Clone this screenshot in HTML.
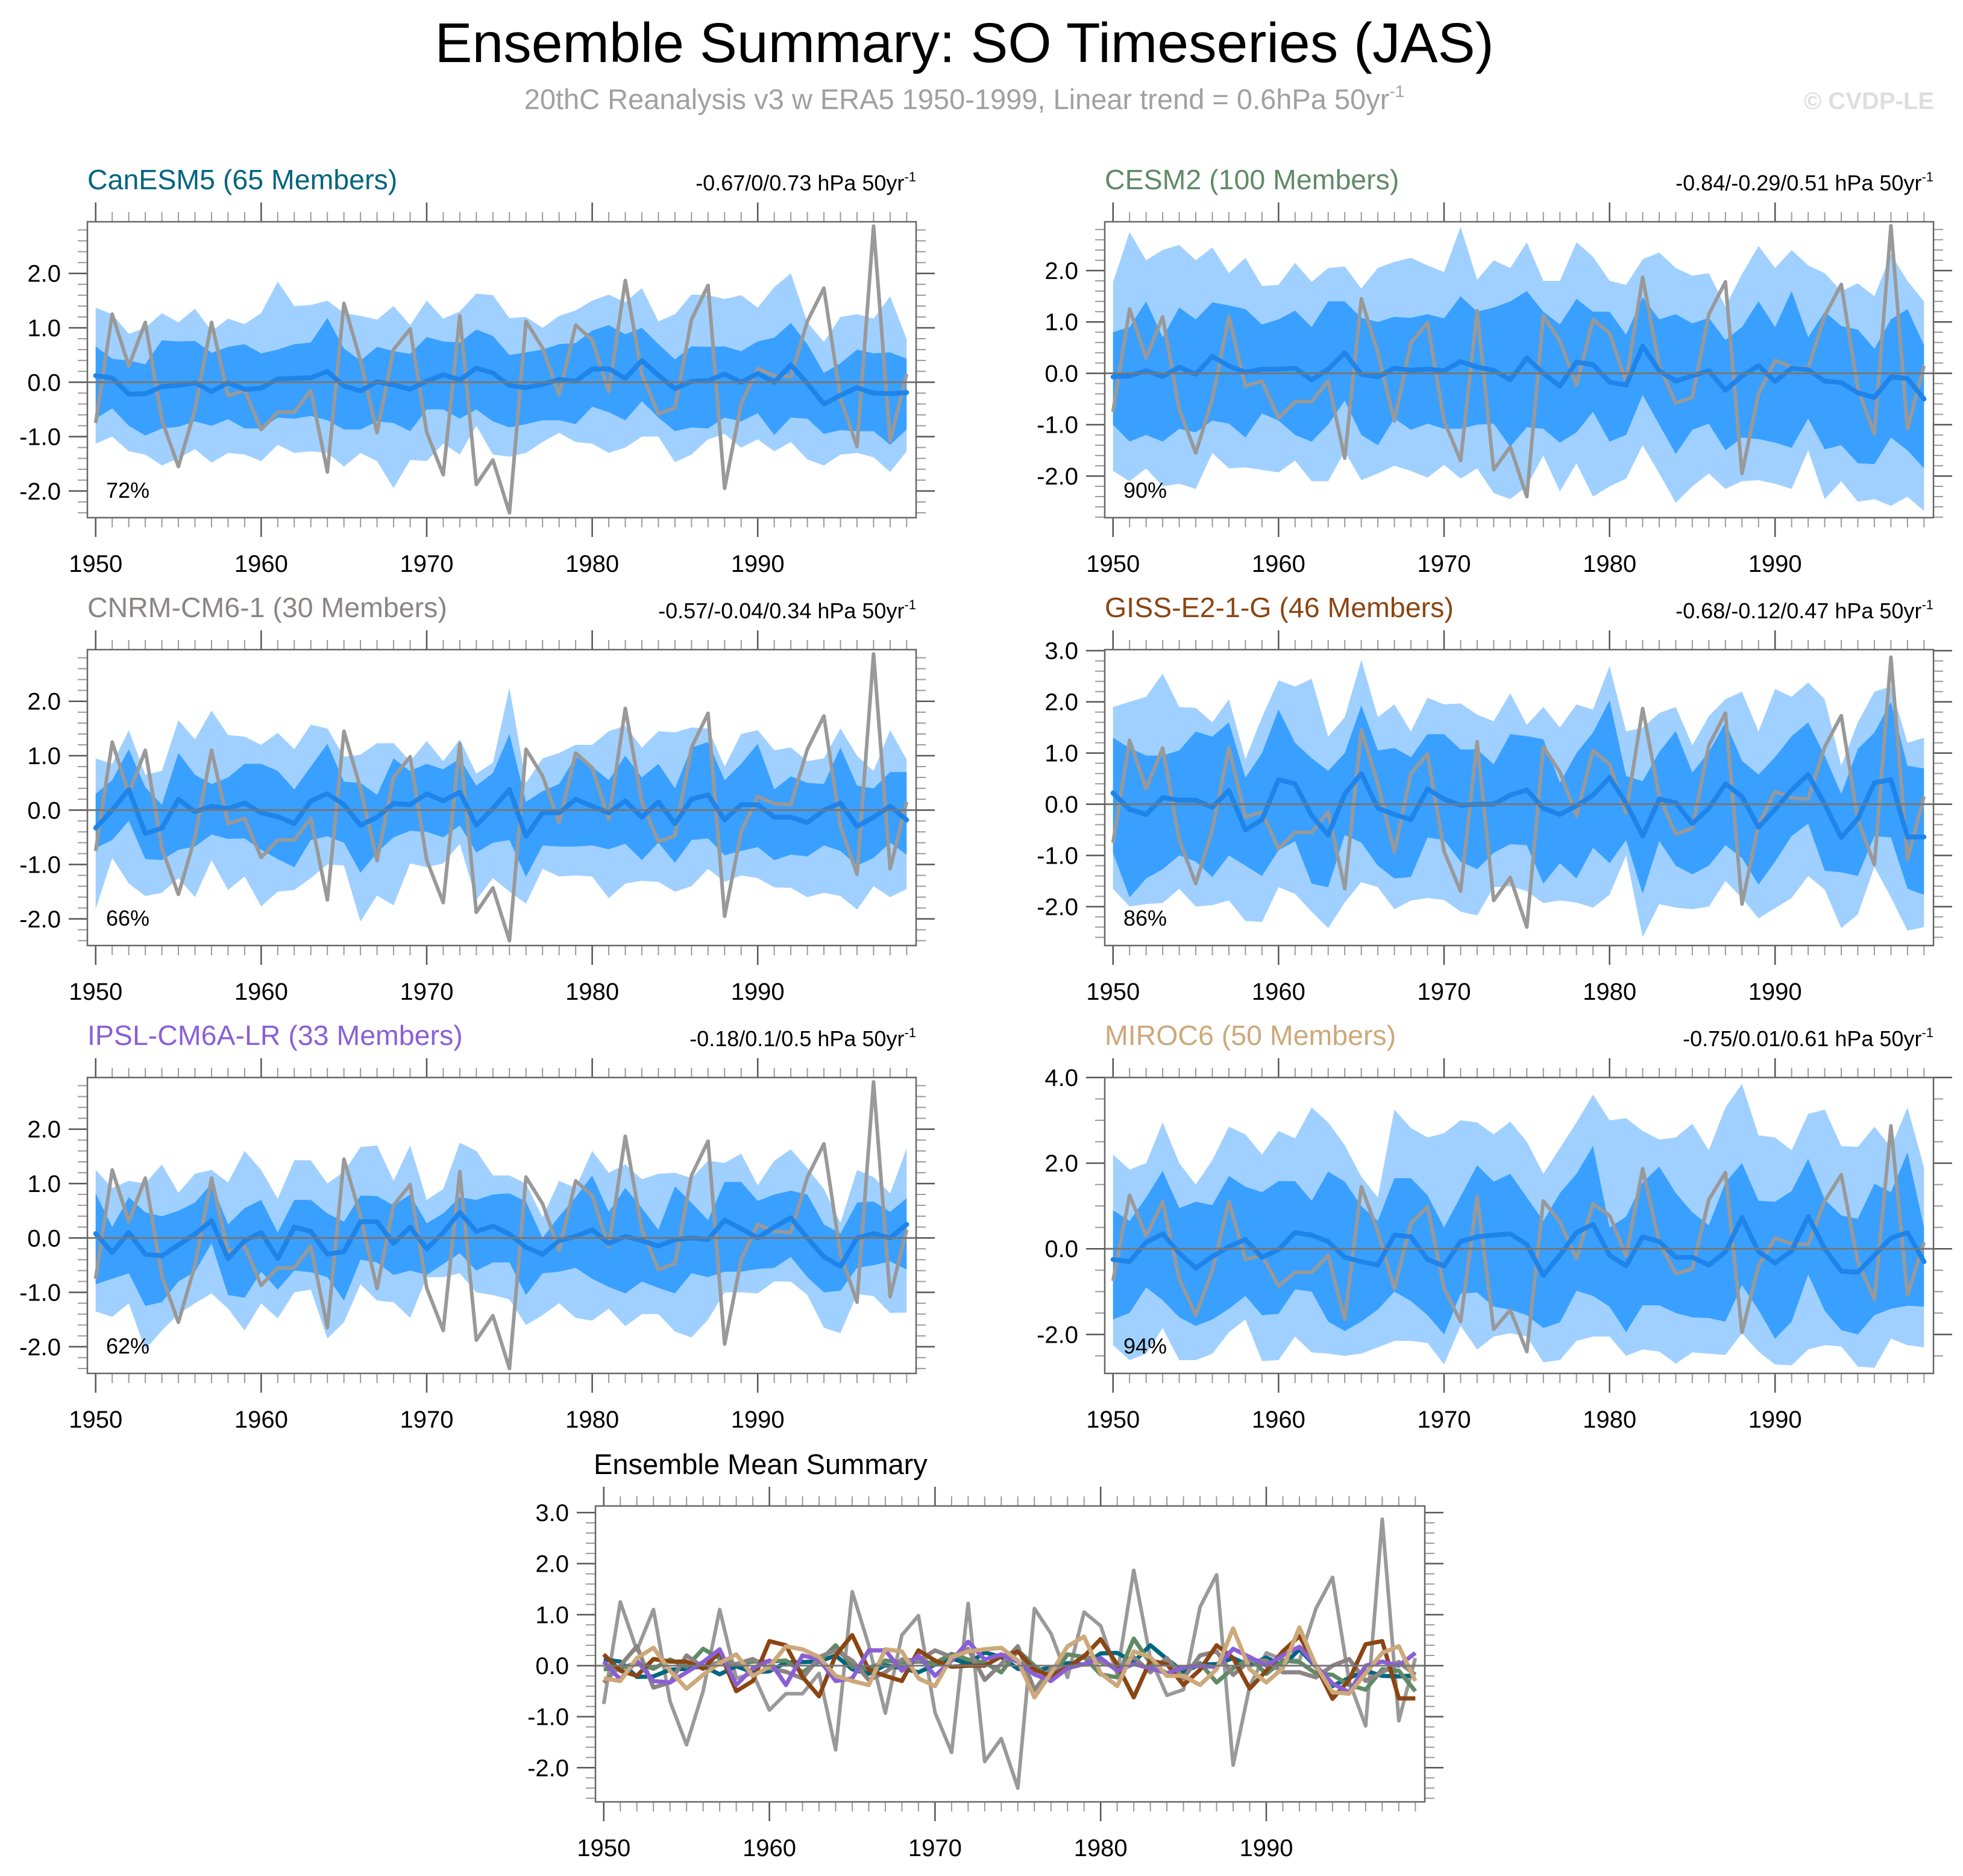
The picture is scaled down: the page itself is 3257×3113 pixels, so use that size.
<!DOCTYPE html>
<html><head><meta charset="utf-8"><style>
html,body{margin:0;padding:0;background:#fff;}
svg{display:block;font-family:"Liberation Sans",Arial,sans-serif;}
</style></head><body>
<svg id="chart" width="3257" height="3113" viewBox="0 0 3257 3113" xmlns="http://www.w3.org/2000/svg">
<rect width="3257" height="3113" fill="#fff"/>
<text x="1600" y="103" font-size="93" text-anchor="middle" fill="#000">Ensemble Summary: SO Timeseries (JAS)</text>
<text x="1600" y="181" font-size="47" text-anchor="middle" fill="#a0a0a0">20thC Reanalysis v3 w ERA5 1950-1999, Linear trend = 0.6hPa 50yr<tspan dy="-20" font-size="28">-1</tspan></text>
<text x="3209" y="181" font-size="40" font-weight="bold" text-anchor="end" fill="#dedede">© CVDP-LE</text>
<g id="plots"></g>
</svg>
<script>
const years = Array.from({length:50},(_,i)=>1950+i);
const obs = [-0.75,1.25,0.3,1.1,-0.7,-1.55,-0.5,1.1,-0.25,-0.15,-0.87,-0.55,-0.55,-0.15,-1.65,1.45,0.4,-0.93,0.6,0.98,-0.92,-1.7,1.22,-1.88,-1.43,-2.4,1.12,0.63,-0.23,1.05,0.78,-0.17,1.87,0.15,-0.58,-0.47,1.15,1.78,-1.95,-0.4,0.25,0.12,0.1,1.12,1.73,-0.3,-1.18,2.87,-1.08,0.15];

const canMean = [0.12,0.08,-0.22,-0.21,-0.08,-0.06,-0.01,-0.17,-0.01,-0.13,-0.11,0.06,0.07,0.08,0.2,-0.07,-0.16,0.01,-0.05,-0.13,0.02,0.14,0.04,0.26,0.17,-0.06,-0.1,-0.04,0.05,0.02,0.24,0.25,0.07,0.4,0.13,-0.12,0.02,0.03,0.15,0.0,0.16,0.0,0.32,-0.02,-0.4,-0.24,-0.1,-0.2,-0.21,-0.19];
const canHi2 = [1.37,1.25,0.89,1.0,1.27,1.1,1.35,0.94,1.17,1.07,1.27,1.85,1.4,1.42,1.5,1.27,1.22,1.15,1.4,1.05,1.5,1.17,1.3,1.63,1.6,1.18,1.2,1.0,1.22,1.32,1.5,1.61,1.47,1.73,1.12,1.25,1.61,1.6,1.53,1.6,1.37,1.75,2.0,1.1,0.74,1.2,1.25,1.17,1.58,0.79];
const canHi1 = [0.66,0.43,0.4,0.33,0.77,0.75,0.76,0.54,0.65,0.7,0.53,0.6,0.7,0.73,1.18,0.62,0.4,0.65,0.57,0.52,0.83,0.75,0.73,0.97,0.85,0.5,0.55,0.6,0.7,0.72,0.95,1.05,0.88,1.0,0.7,0.42,0.66,0.65,0.66,0.57,0.75,0.82,1.09,0.7,0.17,0.35,0.6,0.53,0.55,0.43];
const canLo1 = [-0.67,-0.48,-0.8,-0.98,-0.85,-0.82,-0.72,-0.8,-0.68,-0.85,-0.85,-0.65,-0.67,-0.62,-0.7,-0.87,-0.87,-0.72,-0.75,-0.9,-0.5,-0.5,-0.67,-0.5,-0.72,-0.83,-0.77,-0.7,-0.7,-0.77,-0.45,-0.55,-0.7,-0.35,-0.65,-0.9,-0.83,-0.85,-0.65,-0.72,-0.57,-0.97,-0.65,-0.67,-0.95,-0.88,-0.9,-0.9,-1.15,-0.87];
const canLo2 = [-1.13,-1.0,-1.27,-1.33,-1.53,-1.4,-1.23,-1.48,-1.3,-1.33,-1.45,-1.15,-1.3,-1.27,-1.3,-1.55,-1.3,-1.45,-1.95,-1.43,-1.45,-1.13,-1.33,-0.8,-1.33,-1.37,-1.3,-1.1,-0.93,-1.1,-1.13,-1.3,-1.2,-1.0,-1.0,-1.47,-1.33,-1.05,-0.95,-1.2,-1.05,-1.27,-1.1,-1.42,-1.53,-1.33,-1.3,-1.38,-1.65,-1.27];

const cesmMean = [-0.07,-0.05,0.05,-0.06,0.12,-0.02,0.33,0.14,0.02,0.08,0.08,0.1,-0.13,0.08,0.4,-0.02,-0.07,0.1,0.06,0.08,0.05,0.23,0.12,0.06,-0.13,0.3,0.0,-0.25,0.22,0.17,-0.17,-0.23,0.53,0.05,-0.15,-0.05,0.05,-0.33,-0.05,0.15,-0.16,0.1,0.07,-0.15,-0.18,-0.38,-0.47,-0.07,-0.1,-0.5];
const cesmHi2 = [1.77,2.75,2.2,2.4,2.5,2.2,2.45,1.95,2.25,1.7,1.72,2.15,1.78,2.05,2.08,1.65,2.05,2.17,2.25,2.1,1.97,2.85,1.82,2.2,2.05,2.55,1.8,1.8,2.55,2.27,1.8,1.72,2.22,2.35,2.05,1.9,1.95,1.3,1.93,2.48,2.05,2.4,2.1,1.95,1.6,1.75,1.5,2.32,1.8,1.4];
const cesmHi1 = [0.8,0.9,1.4,0.7,1.28,1.05,1.38,1.32,1.25,0.95,1.05,1.22,0.9,1.4,1.4,1.08,1.0,1.1,1.08,1.15,1.07,1.5,1.2,1.28,1.4,1.6,1.2,0.95,1.45,1.2,1.2,0.75,1.48,1.05,1.15,0.97,1.08,0.65,0.9,1.4,0.9,1.6,0.7,1.2,0.92,0.85,0.48,1.05,1.25,0.55];
const cesmLo1 = [-1.0,-1.33,-1.2,-1.33,-1.08,-1.15,-0.92,-0.98,-1.25,-0.78,-0.92,-1.2,-1.33,-1.0,-0.53,-1.2,-1.4,-0.88,-1.1,-0.98,-1.08,-1.08,-1.0,-0.98,-1.43,-1.05,-1.08,-1.35,-1.15,-0.75,-1.33,-1.2,-0.42,-1.0,-1.57,-1.1,-0.98,-1.5,-1.25,-1.28,-1.35,-1.45,-0.88,-1.48,-1.4,-1.75,-1.77,-1.25,-1.5,-1.85];
const cesmLo2 = [-1.9,-2.1,-1.85,-2.2,-2.15,-2.25,-1.55,-1.85,-1.83,-1.88,-1.93,-1.7,-2.1,-2.1,-1.52,-2.08,-1.95,-1.8,-1.9,-2.03,-1.78,-2.05,-1.85,-2.33,-2.45,-2.2,-1.6,-2.3,-1.75,-2.4,-2.2,-2.05,-1.4,-1.95,-2.52,-2.2,-1.95,-2.25,-2.1,-2.08,-2.15,-2.25,-1.5,-2.45,-2.1,-2.5,-2.45,-2.58,-2.4,-2.68];

const cnrmMean = [-0.33,0.0,0.38,-0.43,-0.33,0.2,-0.03,0.07,0.03,0.13,-0.05,-0.12,-0.25,0.17,0.3,0.1,-0.28,-0.13,0.12,0.1,0.3,0.17,0.33,-0.28,0.03,0.38,-0.48,-0.05,-0.05,0.2,0.07,-0.05,0.17,-0.13,0.15,-0.25,0.2,0.28,-0.18,0.1,0.1,-0.13,-0.13,-0.23,0.0,0.13,-0.3,-0.13,0.07,-0.18];
const cnrmHi2 = [0.95,0.85,1.47,0.65,0.72,1.65,1.3,1.83,1.38,1.35,1.2,1.42,1.12,1.57,1.5,0.98,1.02,1.23,1.23,0.9,1.27,0.9,1.3,0.67,0.87,2.25,0.5,0.95,1.05,1.2,1.2,1.45,1.55,1.15,1.45,1.43,1.52,1.5,0.8,1.4,1.47,1.1,1.15,0.9,0.95,1.5,1.0,0.72,1.47,0.93];
const cnrmHi1 = [0.3,0.55,1.12,0.42,0.1,1.05,0.65,0.48,0.6,0.85,0.85,0.72,0.38,0.8,1.22,0.52,0.5,0.28,0.95,0.72,0.85,0.75,0.95,0.45,0.68,1.4,0.15,0.35,0.48,0.98,0.8,0.55,1.0,0.6,0.85,0.4,1.15,1.25,0.55,0.85,1.22,0.38,0.62,0.5,0.48,1.15,0.45,0.4,0.7,0.7];
const cnrmLo1 = [-0.7,-0.55,-0.2,-0.9,-0.92,-0.73,-0.67,-0.45,-0.53,-0.52,-0.73,-0.9,-1.05,-0.55,-0.48,-0.6,-1.15,-0.78,-0.5,-0.38,-0.4,-0.5,-0.28,-0.78,-0.6,-0.55,-1.23,-0.65,-0.67,-0.67,-0.65,-0.72,-0.62,-0.92,-0.6,-0.97,-0.55,-0.52,-0.83,-0.75,-0.68,-0.92,-0.82,-0.85,-0.65,-0.75,-1.02,-0.88,-0.6,-0.82];
const cnrmLo2 = [-1.82,-0.88,-1.35,-1.58,-1.52,-1.25,-1.6,-0.92,-1.47,-1.22,-1.77,-1.5,-1.47,-1.25,-1.0,-1.02,-2.05,-1.57,-1.75,-0.98,-1.05,-0.98,-0.62,-1.65,-1.25,-1.5,-1.72,-1.08,-1.22,-1.2,-1.22,-1.62,-1.35,-1.3,-1.32,-1.5,-1.4,-1.08,-1.32,-1.2,-1.25,-1.42,-1.43,-1.6,-1.52,-1.58,-1.83,-1.4,-1.6,-1.45];

const gissMean = [0.22,-0.1,-0.2,0.13,0.08,0.08,-0.06,0.27,-0.5,-0.3,0.48,0.4,-0.22,-0.6,0.2,0.6,-0.08,-0.2,-0.3,0.3,0.1,-0.02,0.0,0.0,0.18,0.28,-0.08,-0.2,-0.03,0.18,0.52,0.02,-0.62,0.1,0.03,-0.38,-0.08,0.4,0.15,-0.45,-0.1,0.28,0.58,0.0,-0.65,-0.28,0.42,0.48,-0.64,-0.64];
const gissHi2 = [1.9,2.0,2.1,2.55,1.9,1.88,1.6,2.05,0.88,1.7,2.42,2.3,2.45,1.32,1.7,2.82,1.7,1.95,1.42,2.08,1.95,1.97,1.75,1.62,2.17,1.55,1.9,1.5,1.95,1.85,2.7,1.42,1.5,1.78,1.9,1.15,1.72,2.05,2.2,1.42,2.25,2.1,2.38,2.05,0.75,1.6,2.2,2.3,1.2,1.3];
const gissHi1 = [1.3,1.1,0.95,0.95,1.05,1.42,1.32,1.6,0.52,1.0,1.85,1.2,0.9,0.65,1.0,1.93,1.05,1.1,0.92,1.37,1.37,1.07,1.07,0.78,1.37,1.33,1.27,0.42,1.0,1.4,2.03,0.55,0.45,1.02,1.43,0.62,1.02,1.6,0.85,0.58,0.92,1.33,1.6,0.95,0.2,1.08,1.4,2.0,0.75,0.7];
const gissLo1 = [-0.95,-1.82,-1.45,-1.27,-1.0,-1.12,-1.42,-1.0,-1.2,-1.4,-0.9,-0.72,-1.55,-1.62,-0.6,-0.75,-1.2,-1.45,-1.42,-0.65,-0.7,-1.12,-1.27,-0.95,-0.78,-0.8,-1.55,-1.15,-1.45,-0.85,-1.15,-0.7,-1.75,-0.72,-1.2,-1.37,-1.2,-0.8,-1.05,-1.57,-1.12,-0.62,-0.38,-1.3,-1.33,-1.4,-0.62,-0.65,-1.65,-1.77];
const gissLo2 = [-1.65,-2.0,-1.95,-1.93,-1.65,-2.0,-1.97,-1.88,-2.28,-2.3,-1.62,-1.75,-2.1,-2.42,-1.92,-1.52,-1.62,-2.05,-1.88,-1.83,-1.87,-2.1,-2.17,-1.62,-1.6,-1.7,-1.93,-1.88,-1.92,-2.02,-1.77,-1.0,-2.6,-1.95,-2.02,-2.05,-2.0,-1.5,-1.83,-2.23,-2.03,-1.83,-1.4,-1.67,-2.42,-2.15,-1.22,-1.82,-2.47,-2.4];

const ipslMean = [0.08,-0.27,0.1,-0.3,-0.33,-0.13,0.07,0.32,-0.38,-0.05,0.1,-0.38,0.2,0.12,-0.3,-0.25,0.3,0.3,-0.1,0.2,-0.2,0.1,0.47,0.12,0.22,0.07,-0.17,-0.3,-0.05,0.03,0.15,-0.1,0.03,-0.05,-0.15,-0.03,0.0,-0.03,0.33,0.17,0.0,0.2,0.37,0.0,-0.35,-0.52,0.0,0.08,0.0,0.25];
const ipslHi2 = [1.25,0.92,1.05,1.0,1.35,0.83,1.18,1.25,1.02,1.6,1.25,0.72,1.43,1.43,1.0,1.22,1.67,1.7,1.05,1.7,0.7,0.9,1.75,1.6,1.15,1.15,1.0,0.38,1.05,0.92,1.6,1.2,1.35,1.08,1.18,1.2,1.1,1.42,1.38,1.55,0.97,1.42,1.63,1.28,0.9,0.28,1.25,1.12,0.82,1.65];
const ipslHi1 = [0.82,0.2,0.75,0.47,0.4,0.5,0.65,1.0,0.25,0.55,0.7,0.1,0.7,0.7,0.45,0.3,0.78,0.77,0.6,0.8,0.27,0.45,0.75,0.7,0.8,0.82,0.67,0.0,0.4,0.75,1.15,0.48,0.92,0.55,0.15,0.95,0.65,0.33,1.03,1.03,0.68,0.8,0.87,0.8,0.25,0.08,0.65,0.67,0.48,0.73];
const ipslLo1 = [-0.85,-0.75,-0.65,-1.25,-1.18,-0.8,-0.62,-0.1,-1.05,-1.1,-0.62,-0.95,-0.6,-0.63,-0.72,-1.15,-0.4,-0.45,-0.68,-0.6,-0.68,-0.48,-0.28,-0.6,-0.45,-0.45,-1.05,-0.65,-0.62,-0.55,-0.75,-0.9,-1.02,-0.8,-0.92,-1.02,-0.65,-0.72,-0.62,-0.62,-0.57,-0.55,-0.35,-0.72,-1.0,-0.97,-0.55,-0.5,-0.43,-0.58];
const ipslLo2 = [-1.35,-1.45,-1.2,-2.05,-1.7,-1.4,-1.2,-1.02,-1.3,-1.7,-1.2,-1.48,-1.0,-0.95,-1.85,-1.55,-0.85,-1.15,-1.18,-1.47,-0.72,-0.72,-0.65,-1.0,-1.05,-1.13,-1.6,-1.42,-1.2,-1.47,-1.52,-1.3,-1.62,-1.4,-1.4,-1.72,-1.83,-1.5,-1.0,-1.0,-1.02,-0.8,-0.8,-1.05,-1.65,-1.75,-1.03,-1.07,-1.38,-1.37];

const mirocMean = [-0.25,-0.3,0.15,0.35,-0.1,-0.45,-0.18,0.05,0.22,-0.2,-0.02,0.38,0.32,0.17,-0.2,-0.3,-0.38,0.32,0.28,-0.25,-0.4,0.17,0.28,0.32,0.35,0.1,-0.62,-0.15,0.38,0.57,-0.15,-0.4,0.28,0.17,-0.2,-0.2,-0.38,-0.07,0.73,-0.07,-0.33,-0.05,0.75,0.0,-0.52,-0.55,-0.15,0.25,0.38,-0.3];
const mirocHi2 = [2.2,1.85,2.0,2.95,2.0,1.5,2.07,2.85,2.67,2.2,2.75,2.58,3.3,2.95,2.42,1.68,1.2,3.25,2.82,2.6,2.7,3.0,2.95,2.67,2.97,2.5,1.75,2.35,2.95,3.6,3.0,3.05,2.75,2.55,2.6,2.92,2.3,3.3,3.85,2.65,2.6,2.3,3.15,3.25,2.4,2.38,2.85,2.37,3.3,1.9];
const mirocHi1 = [0.9,0.65,1.2,1.82,0.95,1.1,1.02,1.7,1.45,1.32,1.58,1.58,1.12,1.8,1.57,1.0,0.65,1.65,1.65,1.25,0.5,1.22,1.95,1.57,1.75,1.2,0.65,1.3,1.75,2.4,0.5,0.75,1.55,1.92,1.3,0.85,0.55,1.55,2.0,1.12,1.1,1.35,2.1,1.15,0.78,0.7,1.52,1.32,2.25,0.5];
const mirocLo1 = [-1.65,-1.5,-0.9,-1.2,-1.6,-1.8,-1.65,-1.4,-1.1,-1.55,-1.52,-0.95,-1.0,-1.7,-1.92,-1.7,-1.42,-1.0,-1.22,-1.55,-2.0,-1.05,-1.02,-1.35,-1.42,-1.55,-1.85,-1.72,-0.98,-1.1,-1.35,-1.95,-1.32,-1.32,-1.5,-1.6,-1.62,-1.7,-0.85,-1.43,-2.1,-1.7,-0.6,-1.45,-1.9,-2.0,-1.55,-1.4,-1.33,-1.35];
const mirocLo2 = [-2.25,-2.6,-2.45,-1.85,-2.6,-2.6,-2.45,-1.95,-1.65,-2.62,-2.6,-2.05,-2.42,-2.45,-2.5,-2.45,-2.3,-2.15,-2.15,-2.2,-2.7,-1.8,-2.35,-2.05,-1.97,-2.05,-2.65,-2.6,-2.15,-2.05,-2.05,-2.5,-2.35,-2.4,-2.68,-2.42,-2.45,-2.48,-1.97,-2.4,-2.7,-2.72,-2.35,-2.25,-2.28,-2.75,-2.78,-2.1,-2.25,-2.3];

const modelNames = ["CanESM5 (65 Members)","CESM2 (100 Members)","CNRM-CM6-1 (30 Members)","GISS-E2-1-G (46 Members)","IPSL-CM6A-LR (33 Members)","MIROC6 (50 Members)"];
const modelColors = ["#00657f","#5f8a66","#8c8484","#8b4513","#8a5fd6","#cda87a"];
const trendText = ["-0.67/0/0.73","-0.84/-0.29/0.51","-0.57/-0.04/0.34","-0.68/-0.12/0.47","-0.18/0.1/0.5","-0.75/0.01/0.61"];
const pctText = ["72%","90%","66%","86%","62%","94%"];
const yTickLabels = [["-2.0","-1.0","0.0","1.0","2.0"],["-2.0","-1.0","0.0","1.0","2.0"],["-2.0","-1.0","0.0","1.0","2.0"],["-2.0","-1.0","0.0","1.0","2.0","3.0"],["-2.0","-1.0","0.0","1.0","2.0"],["-2.0","0.0","2.0","4.0"]];
const xTickLabels = ["1950","1960","1970","1980","1990"];
const meanLabels = ["-2.0","-1.0","0.0","1.0","2.0","3.0"];

const NS="http://www.w3.org/2000/svg";
const root=document.getElementById('plots');
function mk(tag,attrs,parent){const e=document.createElementNS(NS,tag);for(const k in attrs)e.setAttribute(k,attrs[k]);(parent||root).appendChild(e);return e;}

function drawAxes(g,L){
  const xs=v=>L.x0+(v-1949.5)/50.07*(L.x1-L.x0);
  const ys=v=>L.y1-(v-L.ymin)/(L.ymax-L.ymin)*(L.y1-L.y0);
  return {xs,ys};
}
function frame(g,L,xs,ys,labels){
  for(let v=Math.ceil(L.ymin/L.minor-1e-6)*L.minor; v<=L.ymax+1e-6; v+=L.minor){
    const isMaj=Math.abs(v/L.major-Math.round(v/L.major))<1e-6;
    const len=isMaj?31:16;
    const y=ys(v);
    const t1=mk('line',{x1:L.x0-len,x2:L.x0,y1:y,y2:y,stroke:isMaj?"#555":"#999","stroke-width":isMaj?2.5:2},g);
    
    
    const t2=mk('line',{x1:L.x1,x2:L.x1+len,y1:y,y2:y,stroke:isMaj?"#555":"#999","stroke-width":isMaj?2.5:2},g);
    
    
  }
  labels.forEach(s=>{
    const v=parseFloat(s);
    const t=mk('text',{x:L.x0-44,y:ys(v)+14,"font-size":40,"text-anchor":"end",fill:"#000"},g);
    t.textContent=s;
    
    
  });
  years.forEach(yr=>{
    const isMaj=yr%10===0;const len=isMaj?32:16;const x=xs(yr);
    const a=mk('line',{x1:x,x2:x,y1:L.y0-len,y2:L.y0,stroke:isMaj?"#555":"#999","stroke-width":isMaj?2.5:2},g);
    
    
    const b=mk('line',{x1:x,x2:x,y1:L.y1,y2:L.y1+len,stroke:isMaj?"#555":"#999","stroke-width":isMaj?2.5:2},g);
    
    
  });
  xTickLabels.forEach(s=>{
    const t=mk('text',{x:xs(+s),y:L.y1+90,"font-size":40,"text-anchor":"middle",fill:"#000"},g);
    t.textContent=s;
    
    
  });
  const z=mk('line',{x1:L.x0,x2:L.x1,y1:ys(0),y2:ys(0),stroke:"#777","stroke-width":3},g);
  
  
  const r=mk('rect',{x:L.x0,y:L.y0,width:L.x1-L.x0,height:L.y1-L.y0,fill:"none",stroke:"#666","stroke-width":2.5},g);
  
  
}
function linePts(arr,xs,ys){return arr.map((v,i)=>xs(years[i]).toFixed(1)+","+ys(v).toFixed(1)).join(" ");}
function band(g,hi,lo,xs,ys,color,name){
  const pts=hi.map((v,i)=>xs(years[i]).toFixed(1)+","+ys(v).toFixed(1)).concat(lo.map((v,i)=>[i,v]).reverse().map(([i,v])=>xs(years[i]).toFixed(1)+","+ys(v).toFixed(1))).join(" ");
  const p=mk('polygon',{points:pts,fill:color},g);
  
  
}

const modelData=[[canMean,canHi2,canHi1,canLo1,canLo2],[cesmMean,cesmHi2,cesmHi1,cesmLo1,cesmLo2],[cnrmMean,cnrmHi2,cnrmHi1,cnrmLo1,cnrmLo2],[gissMean,gissHi2,gissHi1,gissLo1,gissLo2],[ipslMean,ipslHi2,ipslHi1,ipslLo1,ipslLo2],[mirocMean,mirocHi2,mirocHi1,mirocLo1,mirocLo2]];
const layouts=[
 {x0:145,x1:1520,y0:368,y1:859,ymin:-2.49,ymax:2.95,major:1,minor:0.2},
 {x0:1833,x1:3208,y0:368,y1:859,ymin:-2.81,ymax:2.95,major:1,minor:0.2},
 {x0:145,x1:1520,y0:1078,y1:1569,ymin:-2.49,ymax:2.95,major:1,minor:0.2},
 {x0:1833,x1:3208,y0:1078,y1:1569,ymin:-2.76,ymax:3.02,major:1,minor:0.2},
 {x0:145,x1:1520,y0:1788,y1:2279,ymin:-2.49,ymax:2.95,major:1,minor:0.2},
 {x0:1833,x1:3208,y0:1788,y1:2279,ymin:-2.91,ymax:4.0,major:2,minor:0.5}
];
layouts.forEach((L,k)=>{
  const g=mk('g',{});
  
  
  const {xs,ys}=drawAxes(g,L);
  const [mean,hi2,hi1,lo1,lo2]=modelData[k];
  band(g,hi2,lo2,xs,ys,"#a0d0ff","outer-spread-band");
  band(g,hi1,lo1,xs,ys,"#39a0ff","inner-spread-band");
  const o=mk('polyline',{points:linePts(obs,xs,ys),fill:"none",stroke:"#999","stroke-width":6,"stroke-linejoin":"round"},g);
  
  
  const m=mk('polyline',{points:linePts(mean,xs,ys),fill:"none",stroke:"#1e84ea","stroke-width":8,"stroke-linejoin":"round","stroke-linecap":"round"},g);
  
  
  frame(g,L,xs,ys,yTickLabels[k]);
  const t=mk('text',{x:L.x0,y:L.y0-54,"font-size":46.5,fill:modelColors[k]},g);
  t.textContent=modelNames[k];
  
  
  const tr=mk('text',{x:L.x1,y:L.y0-52,"font-size":36,"text-anchor":"end",fill:"#000"},g);
  tr.textContent=trendText[k]+" hPa 50yr";
  const sup=mk('tspan',{dy:-15,"font-size":22},tr);
  sup.textContent="-1";
  
  
  const p=mk('text',{x:L.x0+31,y:L.y1-33,"font-size":36,fill:"#000"},g);
  p.textContent=pctText[k];
  
  
});
(function(){
  const L={x0:988,x1:2364,y0:2499,y1:2990,ymin:-2.67,ymax:3.13,major:1,minor:0.2};
  const g=mk('g',{});
  
  
  const {xs,ys}=drawAxes(g,L);
  const o=mk('polyline',{points:linePts(obs,xs,ys),fill:"none",stroke:"#999","stroke-width":6,"stroke-linejoin":"round"},g);
  
  
  modelData.forEach((d,k)=>{
    const m=mk('polyline',{points:linePts(d[0],xs,ys),fill:"none",stroke:modelColors[k],"stroke-width":7,"stroke-linejoin":"round"},g);
    
    
  });
  frame(g,L,xs,ys,meanLabels);
  const t=mk('text',{x:985,y:2446,"font-size":47,fill:"#000"},g);
  t.textContent="Ensemble Mean Summary";
  
  
})();
</script>
</body></html>
